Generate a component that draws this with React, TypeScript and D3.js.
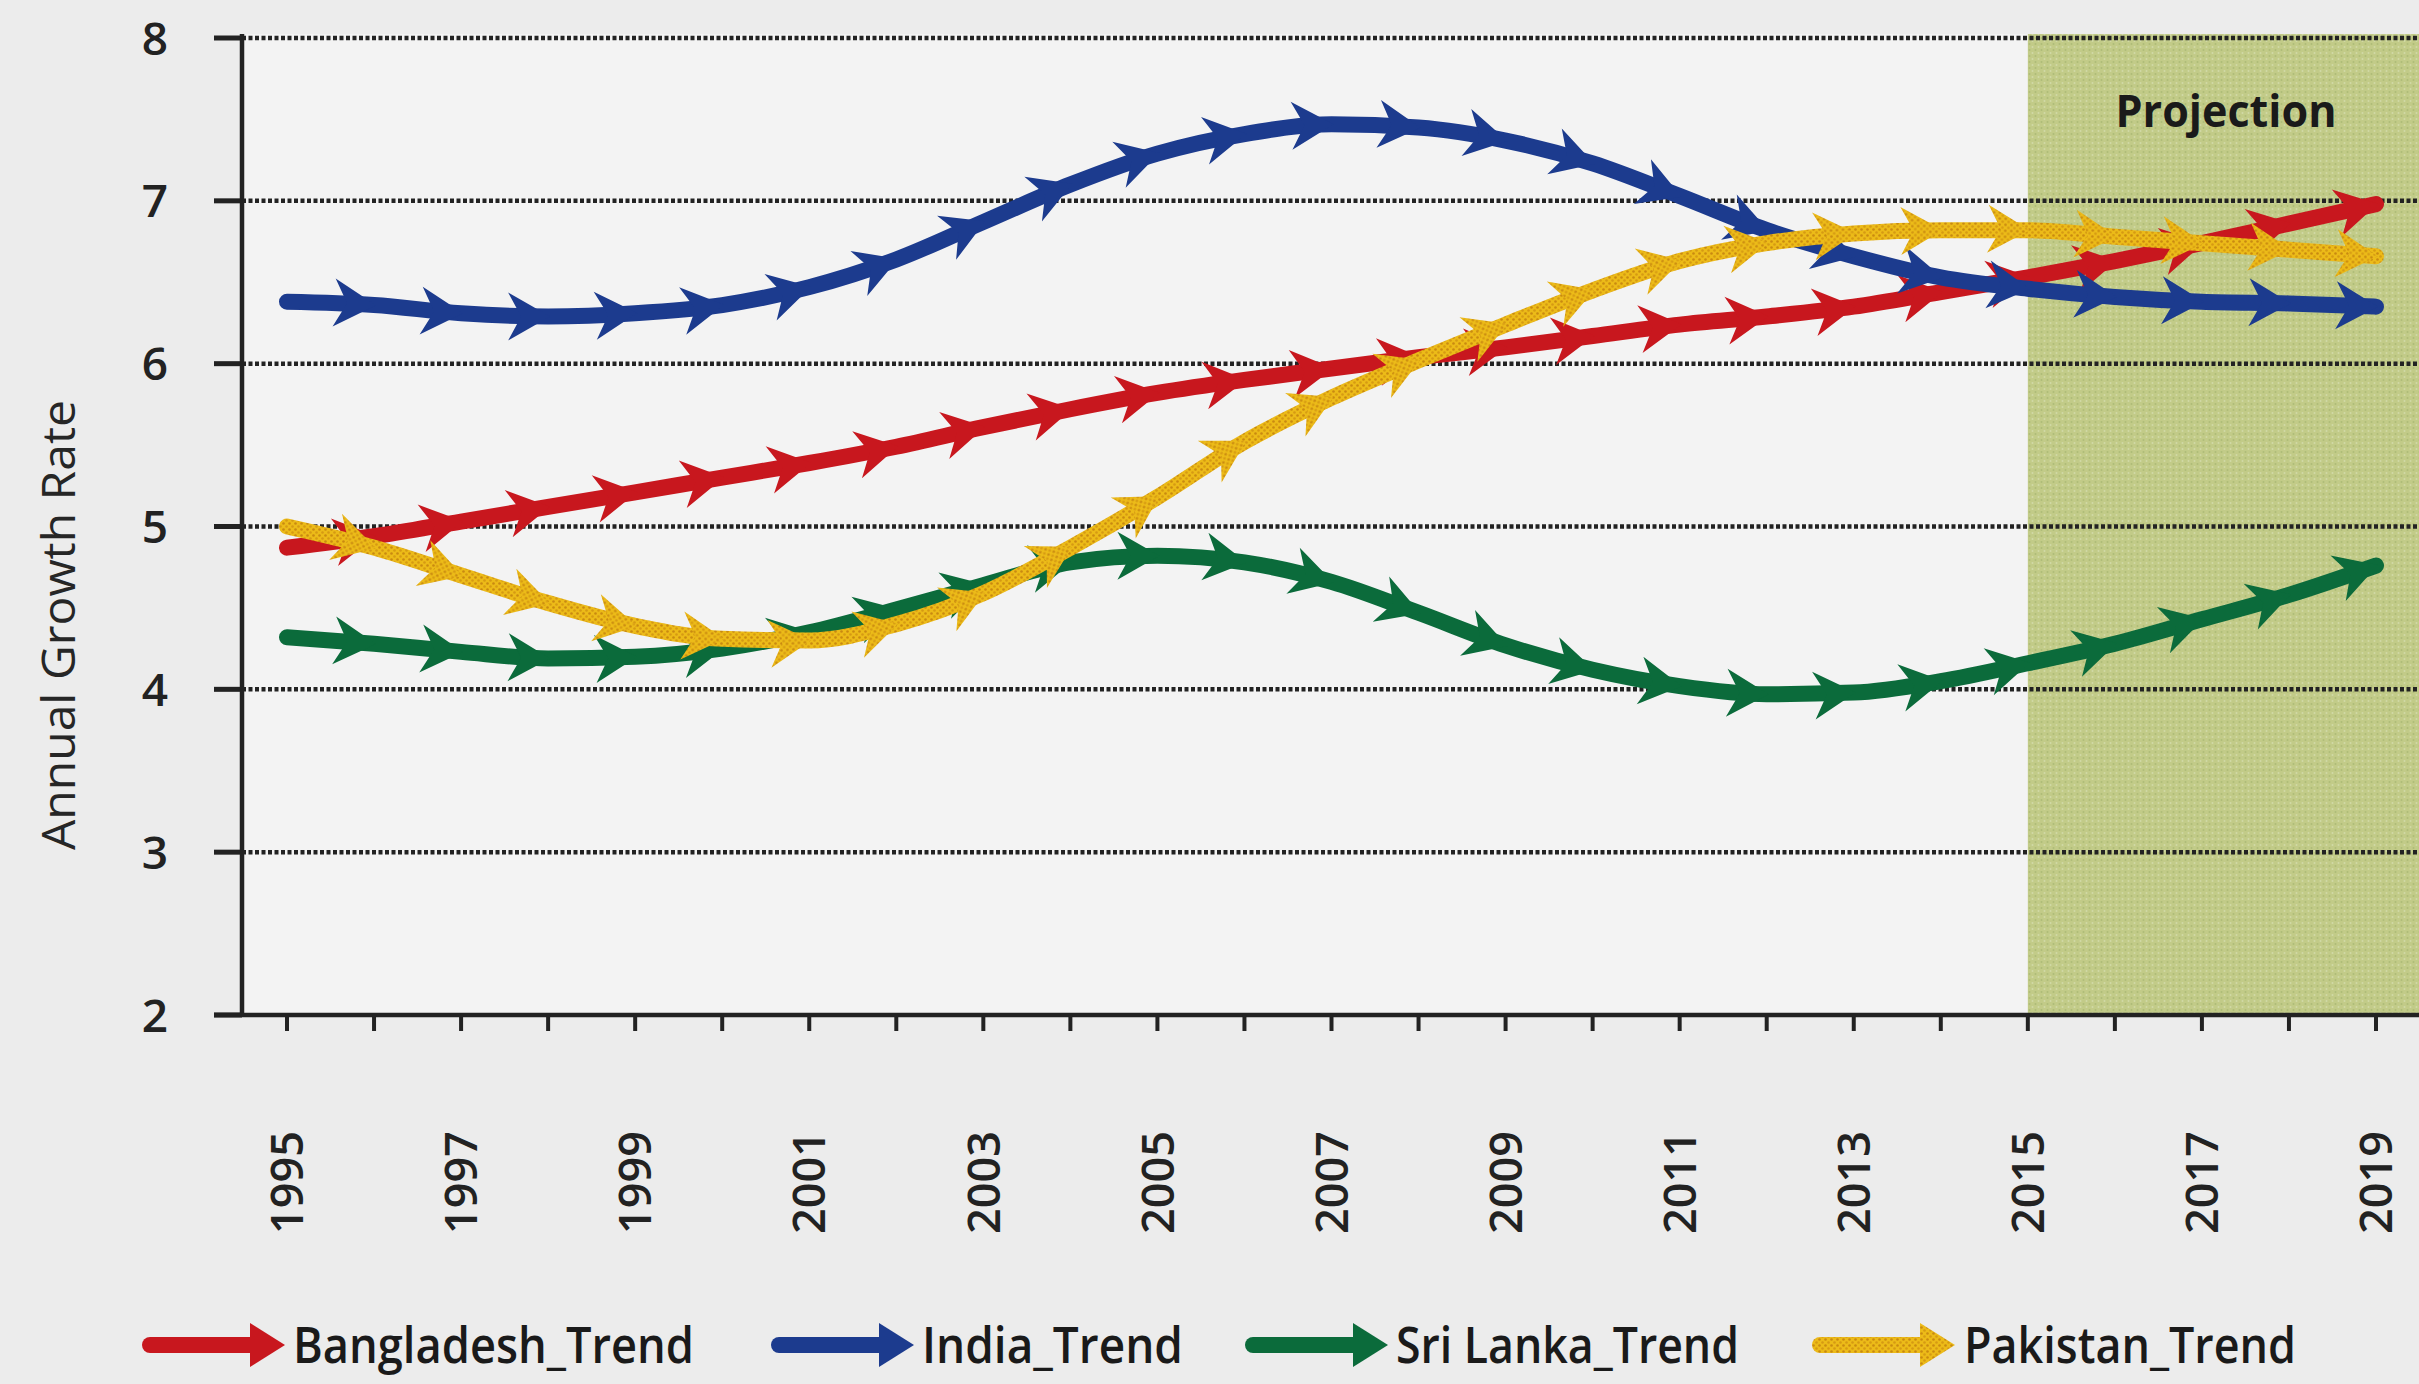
import React from "react";
import * as d3 from "d3";

const years = [1995, 1996, 1997, 1998, 1999, 2000, 2001, 2002, 2003, 2004, 2005, 2006, 2007, 2008, 2009, 2010, 2011, 2012, 2013, 2014, 2015, 2016, 2017, 2018, 2019];
const yearLabels = [1995, 1997, 1999, 2001, 2003, 2005, 2007, 2009, 2011, 2013, 2015, 2017, 2019];
const yTicks = [2, 3, 4, 5, 6, 7, 8];

const bangladesh = [4.87, 4.94, 5.03, 5.12, 5.21, 5.30, 5.39, 5.49, 5.61, 5.72, 5.82, 5.90, 5.97, 6.04, 6.10, 6.17, 6.24, 6.29, 6.35, 6.44, 6.53, 6.63, 6.74, 6.86, 6.98];
const india = [6.38, 6.36, 6.31, 6.29, 6.31, 6.36, 6.47, 6.64, 6.87, 7.10, 7.29, 7.41, 7.47, 7.45, 7.37, 7.23, 7.03, 6.82, 6.66, 6.53, 6.46, 6.41, 6.38, 6.37, 6.35];
const sriLanka = [4.32, 4.28, 4.23, 4.19, 4.20, 4.25, 4.35, 4.49, 4.64, 4.78, 4.82, 4.78, 4.66, 4.47, 4.27, 4.12, 4.02, 3.97, 3.98, 4.05, 4.16, 4.28, 4.43, 4.58, 4.76];
const pakistan = [5.00, 4.87, 4.70, 4.53, 4.39, 4.31, 4.30, 4.40, 4.59, 4.87, 5.18, 5.52, 5.79, 6.02, 6.24, 6.45, 6.63, 6.74, 6.80, 6.82, 6.82, 6.78, 6.74, 6.70, 6.66];

const seriesNames = ["Bangladesh_Trend", "India_Trend", "Sri Lanka_Trend", "Pakistan_Trend"];
const seriesValues = [bangladesh, india, sriLanka, pakistan];
const seriesColors = ["#c8171e", "#1c3b8e", "#0b6b3b", "url(#pakDots)"];

const projectionStart = 2015;

const W = 2419;
const H = 1384;

export default function App() {
  const x = d3.scaleLinear().domain([1995, 2019]).range([287, 2376]);
  const y = d3.scaleLinear().domain([2, 8]).range([1015, 38]);
  const axisX = 242;
  const plotRight = W;

  const line = d3
    .line<number>()
    .x((_, i) => x(years[i]))
    .y((v) => y(v))
    .curve(d3.curveMonotoneX);

  const arrowPath = "M 2 0 L -40 -24 L -27 0 L -40 24 Z";

  const legendX = [150, 779, 1253, 1820];
  const legendTextX = [293, 922, 1396, 1964];
  const legendTextW = [401, 261, 343, 332];
  const legendY = 1345;

  return (
    <svg width={W} height={H} style={{ position: "absolute", left: 0, top: 0, background: "#ececec" }}>
      <defs>
        <pattern id="pakDots" patternUnits="userSpaceOnUse" width="6" height="6">
          <rect width="6" height="6" fill="#ecbb18" />
          <circle cx="1.5" cy="1.5" r="1.3" fill="#c98a10" />
          <circle cx="4.5" cy="4.5" r="1.3" fill="#d69a12" />
        </pattern>
        <pattern id="projSpeck" patternUnits="userSpaceOnUse" width="6" height="6">
          <rect width="6" height="6" fill="#c2cb88" />
          <circle cx="1.5" cy="2" r="1" fill="#aebc77" />
          <circle cx="4.5" cy="5" r="1" fill="#d2d9a6" />
        </pattern>
      </defs>
      <rect x={0} y={0} width={W} height={H} fill="#ececec" />
      {/* plot area */}
      <rect x={axisX} y={y(8) - 4} width={plotRight - axisX} height={y(2) - y(8) + 4} fill="#f3f3f3" />
      {/* projection area */}
      <rect
        x={x(projectionStart)}
        y={y(8) - 4}
        width={plotRight - x(projectionStart)}
        height={y(2) - y(8) + 4}
        fill="url(#projSpeck)"
      />
      {/* gridlines */}
      {yTicks.filter((t) => t > 2).map((t) => (
        <line
          key={"g" + t}
          x1={axisX}
          x2={plotRight}
          y1={y(t)}
          y2={y(t)}
          stroke="#222"
          strokeWidth={4.5}
          strokeDasharray="4 2.5"
        />
      ))}
      {/* y ticks */}
      {yTicks.map((t) => (
        <line key={"yt" + t} x1={214} x2={axisX} y1={y(t)} y2={y(t)} stroke="#222" strokeWidth={5} />
      ))}
      {yTicks.map((t) => (
        <text
          key={"yl" + t}
          x={168}
          y={y(t)}
          dy="0.36em"
          textAnchor="end"
          fontFamily="'Open Sans', sans-serif"
          fontWeight={600}
          fontSize={46}
          fill="#222"
        >
          {t}
        </text>
      ))}
      {/* axes */}
      <line x1={axisX} x2={axisX} y1={y(8) - 4} y2={y(2)} stroke="#222" strokeWidth={4.5} />
      <line x1={214} x2={plotRight} y1={y(2)} y2={y(2)} stroke="#222" strokeWidth={4.5} />
      {years.map((yr) => (
        <line key={"xt" + yr} x1={x(yr)} x2={x(yr)} y1={y(2)} y2={y(2) + 16} stroke="#222" strokeWidth={4} />
      ))}
      {yearLabels.map((yr) => (
        <text
          key={"xl" + yr}
          transform={`translate(${x(yr)},1131) rotate(-90)`}
          dy="0.36em"
          textAnchor="end"
          fontFamily="'Open Sans', sans-serif"
          fontWeight={600}
          fontSize={45}
          fill="#222"
        >
          {yr}
        </text>
      ))}
      {/* y title */}
      <text
        transform={`translate(59,625) rotate(-90)`}
        dy="0.36em"
        textAnchor="middle"
        fontFamily="'Open Sans', sans-serif"
        fontSize={45}
        fill="#262626"
        textLength={450}
        lengthAdjust="spacingAndGlyphs"
      >
        Annual Growth Rate
      </text>
      {/* projection label */}
      <text
        x={2226}
        y={111}
        dy="0.36em"
        textAnchor="middle"
        fontFamily="'Open Sans', sans-serif"
        fontWeight={700}
        fontSize={44}
        fill="#1a1a1a"
        textLength={221}
        lengthAdjust="spacingAndGlyphs"
      >
        Projection
      </text>
      {/* series */}
      {seriesValues.map((vals, s) => {
        const pts = vals.map((v, i) => [x(years[i]), y(v)]);
        return (
          <g key={"s" + s}>
            <path
              d={line(vals) || ""}
              fill="none"
              stroke={seriesColors[s]}
              strokeWidth={16}
              strokeLinecap="round"
              strokeLinejoin="round"
            />
            {pts.slice(1).map((p, k) => {
              const i = k + 1;
              const a = pts[i - 1];
              const b = i < pts.length - 1 ? pts[i + 1] : pts[i];
              const ang = (Math.atan2(b[1] - a[1], b[0] - a[0]) * 180) / Math.PI;
              return (
                <path
                  key={"a" + i}
                  d={arrowPath}
                  transform={`translate(${p[0]},${p[1]}) rotate(${ang})`}
                  fill={seriesColors[s]}
                />
              );
            })}
          </g>
        );
      })}
      {/* legend */}
      {seriesNames.map((name, s) => (
        <g key={"lg" + s}>
          <line
            x1={legendX[s]}
            x2={legendX[s] + 105}
            y1={legendY}
            y2={legendY}
            stroke={seriesColors[s]}
            strokeWidth={16}
            strokeLinecap="round"
          />
          <path
            d={`M ${legendX[s] + 135} ${legendY} L ${legendX[s] + 100} ${legendY - 22} L ${legendX[s] + 100} ${legendY + 22} Z`}
            fill={seriesColors[s]}
          />
          <text
            x={legendTextX[s]}
            y={legendY}
            dy="0.36em"
            fontFamily="'Open Sans', sans-serif"
            fontWeight={600}
            fontSize={50}
            fill="#1a1a1a"
            textLength={legendTextW[s]}
            lengthAdjust="spacingAndGlyphs"
          >
            {name}
          </text>
        </g>
      ))}
    </svg>
  );
}
